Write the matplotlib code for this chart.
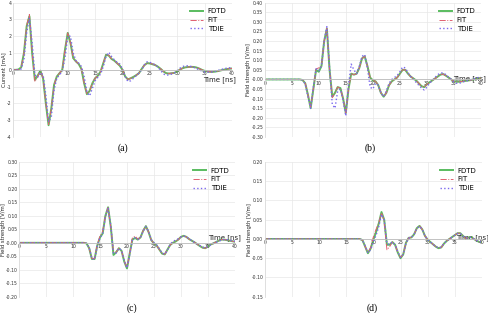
import numpy as np
import matplotlib
matplotlib.use('Agg')
import matplotlib.pyplot as plt

# time axis (ns), 0.5 ns steps
t = np.arange(0, 40.5, 0.5)

# (a) current [mA]
a_fdtd = [0, 0, 0.02, 0.15, 1.0, 2.6, 3.2, 1.0, -0.6, -0.35, -0.05, -0.5, -2.0, -3.3, -2.3, -0.9,
          -0.4, -0.2, 0.0, 1.2, 2.2, 1.6, 0.7, 0.5, 0.35, 0.05, -0.8, -1.45, -1.25, -0.8, -0.5,
          -0.35, -0.1, 0.4, 0.9, 0.85, 0.65, 0.55, 0.4, 0.25, 0.0, -0.4, -0.57, -0.5, -0.42,
          -0.32, -0.2, 0.05, 0.28, 0.4, 0.38, 0.33, 0.28, 0.18, 0.05, -0.1, -0.2, -0.22, -0.2,
          -0.18, -0.1, 0.02, 0.1, 0.15, 0.17, 0.18, 0.17, 0.14, 0.08, 0.0, -0.06, -0.1, -0.12,
          -0.12, -0.1, -0.07, -0.03, 0.01, 0.04, 0.07, 0.08]
a_fit = [0, 0, 0.02, 0.15, 1.0, 2.65, 3.3, 1.05, -0.7, -0.4, -0.05, -0.5, -2.0, -3.25, -2.3, -0.9,
         -0.4, -0.2, 0.0, 1.2, 2.2, 1.6, 0.7, 0.5, 0.35, 0.05, -0.8, -1.42, -1.25, -0.8, -0.5,
         -0.35, -0.1, 0.4, 0.9, 0.88, 0.65, 0.55, 0.4, 0.25, 0.0, -0.4, -0.57, -0.5, -0.42,
         -0.32, -0.2, 0.05, 0.28, 0.4, 0.38, 0.35, 0.28, 0.18, 0.05, -0.1, -0.2, -0.22, -0.2,
         -0.18, -0.1, 0.02, 0.1, 0.15, 0.17, 0.18, 0.17, 0.14, 0.08, 0.0, -0.06, -0.1, -0.12,
         -0.12, -0.1, -0.07, -0.03, 0.01, 0.04, 0.07, 0.08]
a_tdie = [0, 0, 0.0, 0.05, 0.6, 2.2, 3.1, 1.6, -0.3, -0.45, -0.15, -0.3, -1.5, -3.1, -2.8, -1.2,
          -0.5, -0.3, -0.1, 0.7, 2.0, 2.0, 1.0, 0.55, 0.4, 0.2, -0.4, -1.3, -1.55, -1.1, -0.65,
          -0.45, -0.25, 0.2, 0.8, 1.05, 0.8, 0.6, 0.45, 0.35, 0.05, -0.4, -0.7, -0.65, -0.5,
          -0.35, -0.2, 0.0, 0.3, 0.48, 0.45, 0.38, 0.3, 0.15, -0.05, -0.25, -0.32, -0.3, -0.25,
          -0.18, -0.05, 0.1, 0.2, 0.24, 0.24, 0.2, 0.15, 0.08, 0.0, -0.07, -0.12, -0.14, -0.14,
          -0.12, -0.08, -0.03, 0.02, 0.06, 0.1, 0.12, 0.12]

# (b) field strength [V/m]
b_fdtd = [0] * 14 + [-0.003, -0.02, -0.08, -0.15, -0.05, 0.05, 0.04, 0.07, 0.2, 0.265, 0.05,
                     -0.09, -0.07, -0.04, -0.045, -0.1, -0.175, -0.05, 0.03, 0.025, 0.03, 0.06,
                     0.11, 0.12, 0.07, 0.01, -0.005, -0.01, -0.03, -0.07, -0.09, -0.07, -0.03,
                     -0.01, 0.0, 0.01, 0.03, 0.05, 0.05, 0.03, 0.015, 0.005, -0.005, -0.02,
                     -0.035, -0.04, -0.025, -0.015, -0.005, 0.005, 0.015, 0.025, 0.028, 0.02,
                     0.01, 0.0, -0.01, -0.012, -0.012, -0.01, -0.008, -0.006, -0.004, -0.001,
                     0.002, 0.005, 0.008]
b_fit = [0] * 14 + [-0.003, -0.02, -0.08, -0.145, -0.05, 0.055, 0.06, 0.07, 0.2, 0.265, 0.05,
                    -0.095, -0.07, -0.04, -0.045, -0.1, -0.175, -0.05, 0.03, 0.025, 0.03, 0.06,
                    0.11, 0.12, 0.07, 0.01, -0.005, -0.01, -0.03, -0.07, -0.09, -0.07, -0.03,
                    -0.01, 0.0, 0.01, 0.03, 0.05, 0.05, 0.03, 0.015, 0.005, -0.005, -0.02,
                    -0.035, -0.04, -0.025, -0.015, -0.005, 0.005, 0.015, 0.025, 0.028, 0.02,
                    0.01, 0.0, -0.01, -0.012, -0.012, -0.01, -0.008, -0.006, -0.004, -0.001,
                    0.002, 0.005, 0.008]
b_tdie = [0] * 14 + [-0.003, -0.025, -0.09, -0.15, -0.04, 0.055, 0.045, 0.07, 0.2, 0.275, 0.06,
                     -0.13, -0.15, -0.06, -0.05, -0.11, -0.19, -0.03, 0.08, 0.05, 0.03, 0.07,
                     0.12, 0.13, 0.06, -0.04, -0.05, -0.02, -0.03, -0.07, -0.09, -0.06, -0.02,
                     0.0, 0.01, 0.02, 0.04, 0.065, 0.06, 0.035, 0.015, 0.0, -0.015, -0.03,
                     -0.045, -0.055, -0.04, -0.02, -0.005, 0.01, 0.025, 0.033, 0.035, 0.025,
                     0.012, 0.0, -0.012, -0.02, -0.02, -0.015, -0.01, -0.006, -0.002, 0.002,
                     0.006, 0.01, 0.012]

# (c) field strength [V/m]
c_fdtd = [0] * 25 + [-0.002, -0.02, -0.06, -0.06, -0.01, 0.02, 0.035, 0.1, 0.132, 0.06, -0.045,
                     -0.035, -0.02, -0.03, -0.07, -0.095, -0.04, 0.012, 0.018, 0.012, 0.02, 0.045,
                     0.062, 0.04, 0.01, -0.002, -0.01, -0.025, -0.04, -0.043, -0.025, -0.008,
                     0.0, 0.005, 0.012, 0.022, 0.026, 0.022, 0.014, 0.008, 0.002, -0.005, -0.012,
                     -0.018, -0.02, -0.014, -0.006, -0.002, 0.003, 0.008, 0.012, 0.012, 0.01,
                     0.008, 0.006, 0.004]
c_fit = [0] * 25 + [-0.002, -0.02, -0.058, -0.058, -0.008, 0.025, 0.042, 0.1, 0.13, 0.06, -0.035,
                    -0.035, -0.02, -0.03, -0.068, -0.092, -0.04, 0.018, 0.025, 0.014, 0.02, 0.045,
                    0.062, 0.04, 0.01, -0.002, -0.01, -0.025, -0.04, -0.042, -0.025, -0.008,
                    0.0, 0.005, 0.012, 0.022, 0.026, 0.022, 0.014, 0.008, 0.002, -0.005, -0.012,
                    -0.018, -0.02, -0.014, -0.006, -0.002, 0.003, 0.008, 0.012, 0.012, 0.01,
                    0.008, 0.006, 0.004]
c_tdie = [0] * 25 + [-0.002, -0.018, -0.058, -0.062, -0.012, 0.018, 0.033, 0.095, 0.128, 0.065, -0.04,
                     -0.038, -0.02, -0.028, -0.068, -0.093, -0.045, 0.01, 0.018, 0.013, 0.02, 0.043,
                     0.06, 0.042, 0.012, 0.0, -0.008, -0.022, -0.038, -0.042, -0.028, -0.005,
                     0.005, 0.01, 0.015, 0.022, 0.025, 0.022, 0.015, 0.008, 0.002, -0.004, -0.01,
                     -0.016, -0.018, -0.014, -0.008, -0.002, 0.002, 0.006, 0.01, 0.012, 0.012,
                     0.01, 0.008, 0.006]

# (d) field strength [V/m]
d_fdtd = [0] * 36 + [-0.003, -0.02, -0.037, -0.025, -0.002, 0.018, 0.04, 0.07, 0.05, -0.015,
                     -0.015, -0.008, -0.015, -0.035, -0.05, -0.04, -0.01, 0.003, 0.004, 0.012,
                     0.028, 0.034, 0.025, 0.008, -0.002, -0.008, -0.014, -0.02, -0.024, -0.022,
                     -0.012, -0.005, 0.0, 0.005, 0.01, 0.015, 0.015, 0.008, 0.001, 0.004, 0.005,
                     0.0, -0.004, -0.008, -0.008]
d_fit = [0] * 36 + [-0.003, -0.02, -0.036, -0.022, 0.005, 0.025, 0.042, 0.068, 0.045, -0.028,
                    -0.02, -0.008, -0.015, -0.035, -0.048, -0.04, -0.01, 0.003, 0.004, 0.012,
                    0.028, 0.034, 0.025, 0.008, -0.002, -0.008, -0.014, -0.02, -0.024, -0.022,
                    -0.012, -0.005, 0.0, 0.005, 0.01, 0.015, 0.015, 0.008, 0.001, 0.004, 0.005,
                    0.0, -0.004, -0.008, -0.008]
d_tdie = [0] * 36 + [-0.003, -0.018, -0.036, -0.028, -0.008, 0.01, 0.032, 0.064, 0.05, -0.012,
                     -0.014, -0.008, -0.015, -0.033, -0.048, -0.04, -0.012, 0.002, 0.004, 0.012,
                     0.027, 0.033, 0.025, 0.008, -0.002, -0.008, -0.014, -0.02, -0.023, -0.021,
                     -0.012, -0.005, 0.0, 0.005, 0.01, 0.014, 0.014, 0.008, 0.002, 0.004, 0.004,
                     0.0, -0.004, -0.007, -0.008]

panels = [
    # rect, data, ylim, ystep, fmt, ylabel, ylabel x, xlabel pos, tag, tag pos
    ([0.0266, 0.5623, 0.4488, 0.4291], (a_fdtd, a_fit, a_tdie), (-4, 4), 1, '{:.0f}',
     'Current [mA]', -0.044, (0.945, 0.424), '(a)', (0.252, 0.527)),
    ([0.5424, 0.5623, 0.4432, 0.4291], (b_fdtd, b_fit, b_tdie), (-0.3, 0.4), 0.05, '{:.2f}',
     'Field strength [V/m]', -0.073, (0.949, 0.435), '(b)', (0.758, 0.527)),
    ([0.0389, 0.0521, 0.4426, 0.4303], (c_fdtd, c_fit, c_tdie), (-0.2, 0.3), 0.05, '{:.2f}',
     'Field strength [V/m]', -0.073, (0.95, 0.436), '(c)', (0.27, 0.016)),
    ([0.5424, 0.0521, 0.4453, 0.4303], (d_fdtd, d_fit, d_tdie), (-0.15, 0.2), 0.05, '{:.2f}',
     'Field strength [V/m]', -0.072, (0.955, 0.436), '(d)', (0.762, 0.016)),
]

fig = plt.figure(figsize=(4.88, 3.13), dpi=100)

for rect, (fd, fi, td), ylim, ystep, fmt, ylab, ylx, xlpos, tag, tagpos in panels:
    ax = fig.add_axes(rect)
    ax.plot(t, fd, '-', color='#3cb043', lw=1.4, alpha=0.85, label='FDTD')
    ax.plot(t, fi, '-.', color='#e06070', lw=0.7, label='FIT')
    ax.plot(t, td, ':', color='#7b68ee', lw=1.0, label='TDIE')

    ax.set_xlim(0, 40)
    ax.set_ylim(*ylim)
    ax.set_xticks(np.arange(0, 41, 5))
    yt = np.arange(ylim[0], ylim[1] + ystep / 2, ystep)
    ax.set_yticks(yt)
    ax.set_yticklabels([fmt.format(v + 0.0) for v in yt])
    ax.grid(True, color='#e8e8e8', lw=0.5)
    ax.set_axisbelow(True)

    for s in ['top', 'right']:
        ax.spines[s].set_visible(False)
    ax.spines['left'].set_position('zero')
    ax.spines['bottom'].set_position('zero')
    ax.spines['left'].set_color('#dddddd')
    ax.spines['bottom'].set_color('#bbbbbb')
    ax.spines['left'].set_linewidth(0.6)
    ax.spines['bottom'].set_linewidth(0.6)
    ax.tick_params(length=0, labelsize=3.3, colors='#333333', pad=1.0)

    ax.set_ylabel(ylab, fontsize=3.8, color='#222222', va='center')
    ax.yaxis.set_label_coords(ylx, 0.5)
    ax.set_xlabel('Time [ns]', fontsize=5, color='#222222', va='center')
    ax.xaxis.set_label_coords(*xlpos)

    ax.legend(loc='upper right', frameon=False, fontsize=5, handlelength=1.8,
              handletextpad=0.7, labelspacing=0.4, borderaxespad=0.4)

    fig.text(tagpos[0], tagpos[1], tag, fontsize=7, family='Liberation Serif',
             ha='center', va='center')

fig.savefig('out.png', dpi=100)
